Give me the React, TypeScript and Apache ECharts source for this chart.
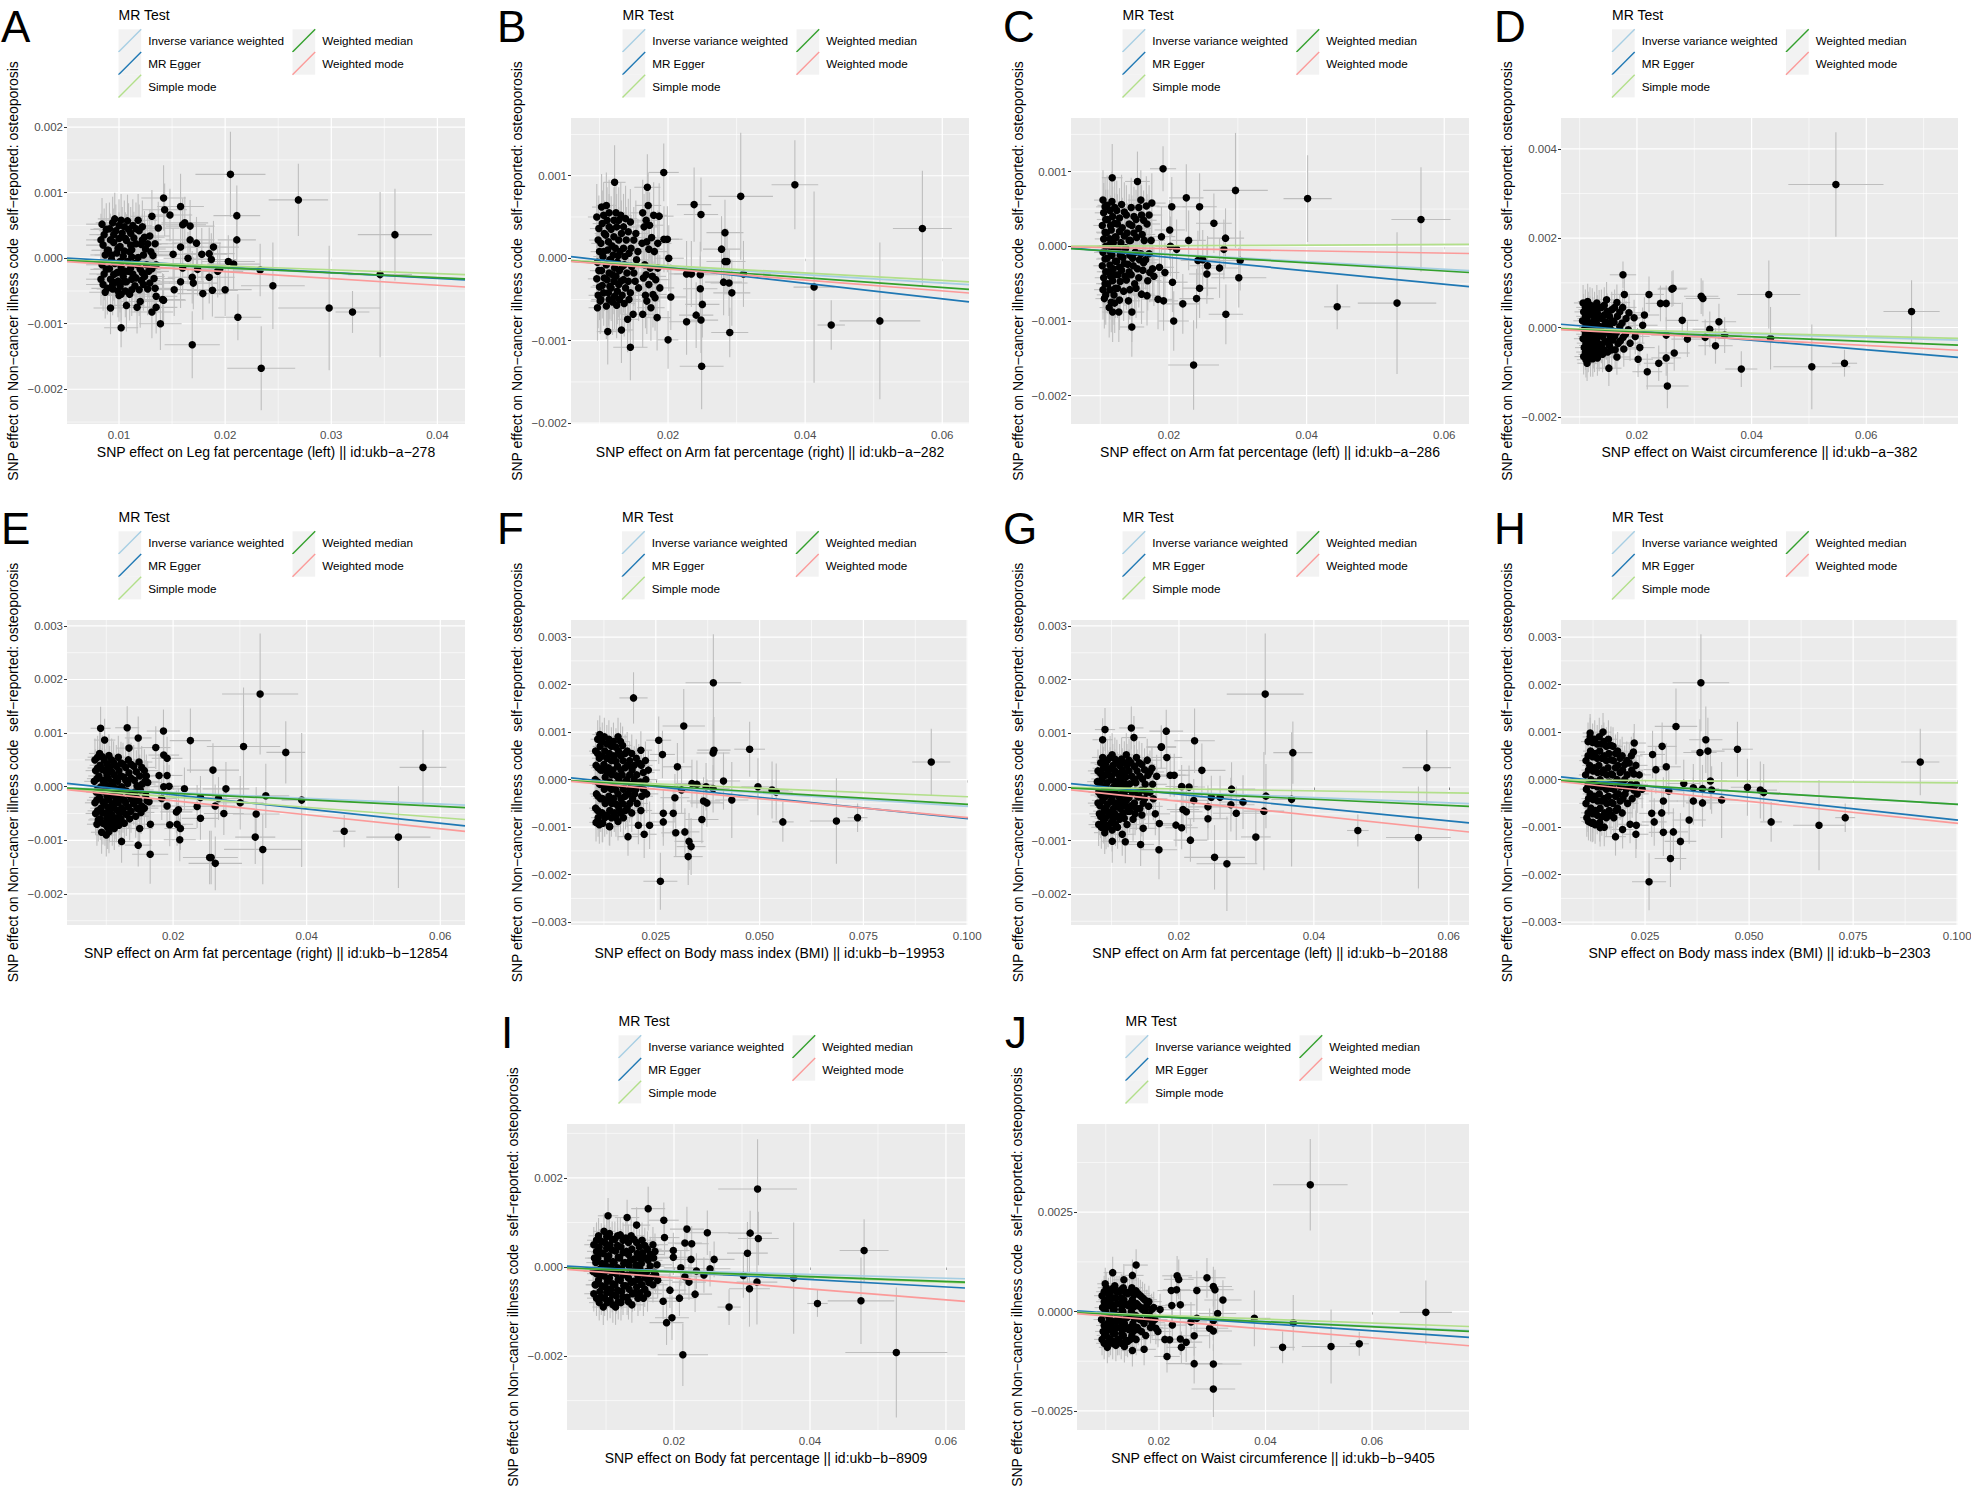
import React, { useEffect, useRef } from "react";
import * as echarts from "echarts";

const FONT = "'Liberation Sans', Arial, Helvetica, sans-serif";
const METHODS = ["Inverse variance weighted", "MR Egger", "Simple mode", "Weighted median", "Weighted mode"];
const METHOD_COLORS = ["#A6CEE3", "#1F78B4", "#B2DF8A", "#33A02C", "#FB9A99"];
const Y_TITLE = "SNP effect on Non\u2212cancer illness code \u00a0self\u2212reported: osteoporosis";

// ---------- SNP data: [beta.exposure, beta.outcome, se.exposure, se.outcome] ----------
const snpA = [
[.0084,.00052,.0015,.0004],[.0086,.00036,.0014,.0004],[.0085,.0002,.0016,.0004],[.0087,.00005,.0014,.0004],[.0084,-.0001,.0015,.0004],[.0086,-.00024,.0014,.0004],[.0085,-.0004,.0016,.0004],[.0087,-.00052,.0015,.0004],
[.0091,.00045,.0015,.0004],[.0092,.00028,.0016,.0004],[.009,.00012,.0015,.0004],[.0093,-.00002,.0016,.0004],[.0091,-.00016,.0015,.0004],[.0092,-.00032,.0016,.0004],[.0094,-.00047,.0015,.0004],
[.0096,.0006,.0016,.0004],[.0097,.00042,.0016,.0004],[.0095,.00024,.0015,.0004],[.0098,.00008,.0016,.0004],[.0096,-.00008,.0016,.0004],[.0098,-.00022,.0015,.0004],[.0096,-.00037,.0016,.0004],[.0099,-.0005,.0016,.0004],
[.0102,.00058,.0017,.0004],[.0103,.00038,.0016,.0004],[.0101,.00018,.0017,.0004],[.0104,.00003,.0016,.0004],[.0102,-.00013,.0017,.0004],[.0104,-.00028,.0016,.0004],[.0101,-.00043,.0017,.0004],
[.0108,.00057,.0017,.0004],[.0109,.00044,.0017,.0004],[.0107,.00027,.0017,.0004],[.011,.0001,.0018,.0004],[.0108,-.00005,.0017,.0004],[.0109,-.0002,.0017,.0004],[.0107,-.00036,.0018,.0004],[.011,-.00055,.0017,.0004],
[.0113,.0005,.0018,.0004],[.0114,.00031,.0018,.0004],[.0112,.00013,.0017,.0004],[.0115,-.00008,.0018,.0004],[.0113,-.00024,.0018,.0004],[.0115,-.00042,.0018,.0004],
[.0118,.00058,.0018,.0004],[.0119,.00042,.0018,.0004],[.0121,.00021,.0019,.0004],[.0118,.00001,.0018,.0004],[.012,-.00017,.0019,.0004],[.0121,-.00034,.0018,.0004],[.0119,-.00048,.0019,.0004],
[.0124,.00032,.0019,.0004],[.0125,.00014,.0019,.0004],[.0126,-.0001,.0019,.0004],[.0124,-.00028,.0019,.0004],[.0127,-.00047,.0019,.0004],
[.0129,.00034,.0019,.0004],[.013,.0001,.002,.0004],[.0131,-.00016,.002,.0004],[.0133,-.00031,.002,.0004],[.0134,.00022,.002,.0004],[.0135,-.0001,.002,.0004],
[.0088,.00044,.0015,.0004],[.0089,.00012,.0015,.0004],[.0088,-.00017,.0015,.0004],[.0089,-.00046,.0015,.0004],[.0083,.00028,.0014,.0004],[.0083,-.00032,.0014,.0004],
[.0094,.00054,.0016,.0004],[.0095,.00036,.0016,.0004],[.0093,.00005,.0016,.0004],[.0095,-.00025,.0016,.0004],[.0094,-.0004,.0016,.0004],
[.01,.0005,.0016,.0004],[.01,.0003,.0016,.0004],[.0099,.00015,.0016,.0004],[.0101,-.00005,.0016,.0004],[.01,-.00021,.0016,.0004],[.0099,-.00035,.0016,.0004],[.0102,-.00055,.0016,.0004],
[.0105,.00048,.0017,.0004],[.0106,.0003,.0017,.0004],[.0105,.00011,.0017,.0004],[.0106,-.0002,.0017,.0004],[.0105,-.00036,.0017,.0004],[.0106,-.0005,.0017,.0004],
[.0111,.00038,.0017,.0004],[.0111,.0002,.0017,.0004],[.0112,.00002,.0017,.0004],[.0111,-.00015,.0017,.0004],[.0112,-.00032,.0017,.0004],[.0112,-.00048,.0017,.0004],
[.0116,.00045,.0018,.0004],[.0116,.00022,.0018,.0004],[.0117,-.0001,.0018,.0004],[.0116,-.0003,.0018,.0004],
[.0122,.00048,.0018,.0004],[.0122,.00028,.0018,.0004],[.0123,.00005,.0018,.0004],[.0122,-.00022,.0018,.0004],[.0123,-.0004,.0018,.0004],
[.0127,.00022,.0019,.0004],[.0128,-.0002,.0019,.0004],[.0132,.00004,.0019,.0004],[.0129,-.00038,.0019,.0004],
[.0131,.00064,.002,.0004],[.0137,.00046,.002,.0004],[.0142,.00092,.0021,.0005],[.0143,.00074,.0021,.0004],[.0148,.00066,.0021,.0004],[.0158,.00079,.0022,.0005],[.016,.00051,.0022,.0004],[.0162,.00054,.0022,.0004],[.0167,.00049,.0023,.0004],[.0167,.00028,.0023,.0004],[.0173,.00023,.0023,.0004],[.0189,.00017,.0024,.0004],[.0178,.00006,.0024,.0004],[.0185,.00007,.0024,.0004],[.0203,-.00005,.0025,.0004],[.0208,-.00009,.0025,.0004],[.0187,-.00002,.0024,.0004],[.0165,0,.0023,.0004],[.0151,.00006,.0022,.0004],[.0158,.00017,.0022,.0004],[.0193,-.0002,.0024,.0004],[.0195,-.00016,.0024,.0004],[.0185,-.00029,.0024,.0004],[.0169,-.00029,.0023,.0004],[.017,-.00038,.0023,.0004],[.0158,-.00036,.0022,.0004],[.0152,-.00048,.0022,.0004],[.0179,-.00054,.0024,.0004],[.0188,-.00049,.0024,.0004],[.02,-.00048,.0025,.0004],[.0174,-.00017,.0023,.0004],[.016,-.00015,.0022,.0004],[.0134,-.00046,.002,.0004],[.0135,-.00058,.002,.0004],[.0142,-.00064,.0021,.0004],[.0131,-.00082,.002,.0004],[.0135,-.00075,.002,.0004],[.0117,-.00075,.0018,.0004],[.0107,-.00072,.0017,.0004],[.01,-.00057,.0017,.0004],[.0092,-.00076,.0016,.0004],[.012,-.00066,.0018,.0004],[.0139,-.001,.002,.0004],[.0141,-.00063,.0021,.0004],
[.0102,-.00106,.0016,.0003],[.0205,.00128,.0033,.00065],[.0269,.00089,.0028,.00055],[.036,.00036,.0035,.0007],[.0346,-.00025,.003,.00126],[.0298,-.00076,.0048,.00095],[.032,-.00082,.0016,.00032],[.0245,-.00042,.003,.00066],[.0234,-.00168,.0032,.00064],[.0169,-.00132,.0026,.00051],[.0212,-.0009,.0022,.00035],[.0211,.00065,.0022,.00046],[.0211,.00028,.0018,.0004],[.0233,-.00018,.0025,.0004]
];
const snpB = [
[.0096,.0005,.0013,.0004],[.0098,.00022,.0013,.0004],[.0097,-.00005,.0013,.0004],[.0096,-.00025,.0013,.0004],[.0098,-.00045,.0014,.0004],[.0097,-.0006,.0013,.0004],
[.0103,.00062,.0014,.0004],[.0104,.00042,.0014,.0004],[.0102,.00018,.0014,.0004],[.0105,.00002,.0014,.0004],[.0103,-.00015,.0014,.0004],[.0104,-.00033,.0014,.0004],[.0102,-.0005,.0014,.0004],
[.011,.00064,.0015,.0004],[.0111,.00046,.0015,.0004],[.0109,.00028,.0015,.0004],[.0112,.0001,.0015,.0004],[.011,-.00008,.0015,.0004],[.0111,-.00026,.0015,.0004],[.0113,-.00042,.0015,.0004],[.011,-.00058,.0015,.0004],
[.0117,.00035,.0015,.0004],[.0118,.00015,.0015,.0004],[.0116,-.00002,.0015,.0004],[.0119,-.0002,.0015,.0004],[.0117,-.00036,.0015,.0004],[.0119,-.00053,.0015,.0004],
[.0124,.00055,.0016,.0004],[.0125,.00038,.0016,.0004],[.0123,.00012,.0016,.0004],[.0126,-.00005,.0016,.0004],[.0124,-.00022,.0016,.0004],[.0126,-.0004,.0016,.0004],[.0125,-.00057,.0016,.0004],
[.0131,.00052,.0016,.0004],[.0132,.0003,.0016,.0004],[.013,.00008,.0016,.0004],[.0133,-.0001,.0017,.0004],[.0131,-.00028,.0016,.0004],[.0133,-.00045,.0017,.0004],
[.0138,.00048,.0017,.0004],[.0139,.00022,.0017,.0004],[.0137,.00002,.0017,.0004],[.014,-.00018,.0017,.0004],[.0138,-.00036,.0017,.0004],[.0141,-.00074,.0017,.0004],
[.0145,.00044,.0017,.0004],[.0146,.00012,.0017,.0004],[.0147,-.0001,.0018,.0004],[.0145,-.00042,.0017,.0004],[.0149,-.00068,.0018,.0004],
[.0153,.0003,.0018,.0004],[.0154,-.00002,.0018,.0004],[.0152,-.00028,.0018,.0004],
[.0163,.00055,.0019,.0004],[.0165,.00038,.0019,.0004],[.0162,.00018,.0019,.0004],[.0166,-.00008,.0019,.0004],[.0164,-.00024,.0019,.0004],[.0167,-.00045,.0019,.0004],[.0163,-.00068,.0019,.0004],
[.0171,.00064,.0019,.0004],[.0173,.0004,.002,.0004],[.0172,.00011,.002,.0004],[.0174,-.00012,.002,.0004],[.0172,-.00032,.002,.0004],[.0175,-.0006,.002,.0004],
[.0179,.00052,.002,.0004],[.018,.00008,.002,.0004],[.0182,-.00026,.002,.0004],[.0181,-.00048,.002,.0004],[.0184,-.00072,.002,.0004],[.0187,.00051,.0021,.0004],[.0188,-.00036,.0021,.0004],
[.0099,.00036,.0013,.0004],[.01,.00008,.0013,.0004],[.0099,-.00015,.0013,.0004],[.01,-.00035,.0013,.0004],[.0101,-.00052,.0014,.0004],
[.0106,.00052,.0014,.0004],[.0107,.0003,.0014,.0004],[.0106,.00008,.0014,.0004],[.0107,-.00024,.0014,.0004],[.0106,-.00042,.0014,.0004],
[.0114,.00055,.0015,.0004],[.0114,.00038,.0015,.0004],[.0113,.0002,.0015,.0004],[.0115,-.00002,.0015,.0004],[.0114,-.00018,.0015,.0004],[.0115,-.00034,.0015,.0004],[.0114,-.0005,.0015,.0004],
[.0121,.00046,.0015,.0004],[.0121,.00026,.0015,.0004],[.012,.00004,.0015,.0004],[.0122,-.00012,.0015,.0004],[.0121,-.00028,.0015,.0004],[.0122,-.00046,.0015,.0004],
[.0128,.00046,.0016,.0004],[.0128,.00022,.0016,.0004],[.0127,.00003,.0016,.0004],[.0129,-.00015,.0016,.0004],[.0128,-.00032,.0016,.0004],[.0129,-.0005,.0016,.0004],
[.0135,.00038,.0016,.0004],[.0135,.00012,.0016,.0004],[.0136,-.00008,.0016,.0004],[.0135,-.00026,.0016,.0004],[.0136,-.00055,.0016,.0004],
[.0142,.00032,.0017,.0004],[.0143,.00006,.0017,.0004],[.0142,-.00028,.0017,.0004],[.0143,-.0005,.0017,.0004],
[.015,.00022,.0018,.0004],[.015,-.00018,.0018,.0004],[.0156,.00008,.0018,.0004],[.0157,-.00036,.0018,.0004],
[.0168,.00046,.0019,.0004],[.0169,.0002,.0019,.0004],[.0168,-.0002,.0019,.0004],[.0169,-.00052,.0019,.0004],[.0176,.00025,.002,.0004],[.0177,-.00022,.002,.0004],[.0178,-.00044,.002,.0004],[.0185,.00018,.002,.0004],[.0185,-.00012,.002,.0004],
[.01937,.00104,.0022,.00035],[.0122,.00092,.0016,.00045],[.01698,.00086,.0019,.0004],[.0306,.00075,.0047,.00077],[.0385,.00089,.0034,.00054],[.0571,.00036,.0043,.0007],[.0238,.00065,.0025,.00045],[.0248,.00053,.0025,.00045],[.0283,.00031,.0027,.0004],[.0278,.00011,.0027,.0004],[.0283,-.00004,.0027,.0004],[.0286,-.00004,.0027,.0004],[.031,-.00019,.004,.0004],[.0281,-.00029,.0027,.0004],[.0289,-.0003,.0027,.0004],[.0293,-.00042,.0027,.0004],[.029,-.0009,.0027,.0003],[.0413,-.00035,.003,.00116],[.0438,-.00081,.002,.0003],[.0509,-.00076,.0059,.00095],[.0249,-.00131,.0032,.00052],[.02,-.00099,.0015,.00035],[.0145,-.00108,.0025,.0004],[.0227,-.00077,.0025,.0004],[.0241,-.00069,.0025,.0004],[.0248,-.00075,.0025,.0004],[.025,-.00056,.0025,.0004],[.0247,-.00037,.0025,.0004],[.0247,-.0002,.0025,.0004],[.0227,-.00019,.0025,.0004],[.0234,-.00019,.0025,.0004],[.0204,-.00047,.0022,.0004],[.0201,0,.0022,.0004],[.0199,.00023,.0022,.0004],[.0194,.00023,.0022,.0004],[.0112,-.00089,.0016,.0004],[.0132,-.00087,.0017,.0004]
];
const snpC = [
[.0104,.00062,.0013,.0004],[.0105,.00045,.0013,.0004],[.0103,.00028,.0013,.0004],[.0105,.0001,.0013,.0004],[.0104,-.00008,.0013,.0004],[.0103,-.00026,.0013,.0004],[.0105,-.00042,.0013,.0004],[.0104,-.00058,.0013,.0004],[.0106,-.0007,.0013,.0004],
[.011,.00055,.0014,.0004],[.0111,.00036,.0014,.0004],[.0109,.00018,.0014,.0004],[.0112,.00001,.0014,.0004],[.011,-.00016,.0014,.0004],[.0112,-.00034,.0014,.0004],[.0111,-.0005,.0014,.0004],[.0113,-.00082,.0014,.0004],
[.0117,.0006,.0015,.0004],[.0118,.0004,.0015,.0004],[.0116,.00022,.0015,.0004],[.0119,.00005,.0015,.0004],[.0117,-.00012,.0015,.0004],[.0119,-.0003,.0015,.0004],[.0118,-.00046,.0015,.0004],[.012,-.00065,.0015,.0004],[.0118,-.00088,.0015,.0004],
[.0124,.00048,.0015,.0004],[.0125,.0003,.0015,.0004],[.0123,.00012,.0015,.0004],[.0126,-.00004,.0016,.0004],[.0124,-.0002,.0015,.0004],[.0126,-.00038,.0016,.0004],[.0125,-.00056,.0016,.0004],[.0127,-.00088,.0016,.0004],
[.0131,.00056,.0016,.0004],[.0132,.00025,.0016,.0004],[.013,.00005,.0016,.0004],[.0133,-.00015,.0016,.0004],[.0131,-.00032,.0016,.0004],[.0134,-.0006,.0016,.0004],
[.0138,.00042,.0017,.0004],[.0139,.00018,.0017,.0004],[.0137,-.00002,.0017,.0004],[.014,-.00024,.0017,.0004],[.0138,-.00045,.0017,.0004],[.0141,-.00073,.0017,.0004],
[.0145,.00052,.0017,.0004],[.0146,.00028,.0017,.0004],[.0144,.00008,.0017,.0004],[.0147,-.00016,.0018,.0004],[.0145,-.00038,.0017,.0004],[.0146,-.00088,.0018,.0004],
[.0152,.00036,.0018,.0004],[.0153,.00012,.0018,.0004],[.0151,-.00008,.0018,.0004],[.0154,-.0003,.0018,.0004],[.0152,-.00056,.0018,.0004],
[.0159,.00062,.0019,.0004],[.016,.00042,.0019,.0004],[.0161,.00016,.0019,.0004],[.0159,-.0001,.0019,.0004],[.0162,-.00032,.0019,.0004],[.016,-.00064,.0019,.0004],
[.0167,.00054,.0019,.0004],[.0168,.0003,.0019,.0004],[.0166,-.00018,.0019,.0004],[.0169,-.00046,.002,.0004],[.0168,-.00066,.002,.0004],
[.0175,.00058,.002,.0004],[.0174,.00008,.002,.0004],[.0176,-.0003,.002,.0004],[.0178,-.0004,.002,.0004],
[.0107,.00053,.0013,.0004],[.0108,.00036,.0013,.0004],[.0107,.00019,.0013,.0004],[.0108,0,.0013,.0004],[.0107,-.00017,.0013,.0004],[.0108,-.00034,.0013,.0004],[.0107,-.0005,.0013,.0004],[.0108,-.00065,.0013,.0004],
[.0114,.00048,.0014,.0004],[.0115,.00028,.0014,.0004],[.0114,.0001,.0014,.0004],[.0115,-.00008,.0014,.0004],[.0114,-.00025,.0014,.0004],[.0115,-.0004,.0014,.0004],[.0114,-.00058,.0014,.0004],[.0116,-.00075,.0014,.0004],
[.0121,.00052,.0015,.0004],[.0121,.00031,.0015,.0004],[.0122,.00013,.0015,.0004],[.0121,-.00004,.0015,.0004],[.0122,-.0002,.0015,.0004],[.0121,-.00038,.0015,.0004],[.0122,-.00056,.0015,.0004],[.0121,-.00076,.0015,.0004],
[.0128,.00038,.0015,.0004],[.0128,.0002,.0015,.0004],[.0129,-.00012,.0016,.0004],[.0128,-.00028,.0015,.0004],[.0129,-.00047,.0016,.0004],[.0128,-.00072,.0016,.0004],
[.0135,.00046,.0016,.0004],[.0135,.00014,.0016,.0004],[.0136,-.00005,.0016,.0004],[.0135,-.00023,.0016,.0004],[.0136,-.0004,.0016,.0004],
[.0142,.0003,.0017,.0004],[.0142,.00008,.0017,.0004],[.0143,-.00012,.0017,.0004],[.0142,-.00034,.0017,.0004],[.0143,-.00058,.0017,.0004],
[.0149,.0004,.0017,.0004],[.0149,.00018,.0017,.0004],[.0148,-.00026,.0017,.0004],[.015,-.0005,.0017,.0004],
[.0156,.00052,.0018,.0004],[.0156,.00024,.0018,.0004],[.0157,-.00018,.0018,.0004],[.0156,-.00042,.0018,.0004],
[.0163,.00035,.0019,.0004],[.0164,.00008,.0019,.0004],[.0163,-.00022,.0019,.0004],[.0171,.00042,.0019,.0004],[.0171,-.0001,.0019,.0004],[.0172,-.00035,.002,.0004],
[.01913,.00104,.0019,.0003],[.01174,.00092,.0015,.00045],[.01541,.00087,.0018,.0004],[.02966,.00075,.0047,.00077],[.02251,.00065,.0025,.00045],[.02444,.00053,.0025,.00045],[.04014,.00064,.0035,.00058],[.05662,.00036,.0043,.0007],[.02652,.00031,.0026,.0004],[.02285,.00008,.0025,.0004],[.02821,.00011,.0027,.0004],[.02797,-.00004,.0027,.0004],[.03034,-.00019,.004,.0004],[.03014,-.00042,.004,.0004],[.02734,-.00029,.0027,.0004],[.0256,-.00026,.0026,.0004],[.0255,-.00037,.0026,.0004],[.0242,-.00019,.0025,.0004],[.0249,-.00018,.0025,.0004],[.02444,-.00056,.0025,.0004],[.024,-.0007,.0025,.0004],[.022,-.00077,.0025,.0004],[.0205,-.00048,.0022,.0004],[.02068,-.001,.0022,.0004],[.02826,-.00091,.0025,.0004],[.02357,-.00159,.0037,.0006],[.04444,-.00081,.0019,.0003],[.05314,-.00076,.0057,.00095],[.01459,-.00108,.0018,.0004],[.0202,0,.0022,.0004],[.0211,-.00004,.0022,.0004],[.0201,.00022,.0022,.0004],[.0204,.00053,.0022,.0004],[.0189,.00013,.002,.0004],[.0194,-.00035,.0021,.0004],[.0186,-.00028,.0021,.0004],[.0184,-.00071,.0021,.0004],[.0192,-.00073,.0021,.0004]
];
const snpD = [
[.0106,.00055,.0016,.0004],[.0107,.00035,.0016,.0004],[.0105,.00015,.0016,.0004],[.0108,-.00005,.0016,.0004],[.0106,-.00025,.0016,.0004],[.0108,-.00045,.0016,.0004],[.0107,-.00065,.0016,.0004],
[.0114,.00058,.0017,.0004],[.0115,.0004,.0017,.0004],[.0113,.0002,.0017,.0004],[.0116,0,.0017,.0004],[.0114,-.0002,.0017,.0004],[.0116,-.0004,.0017,.0004],[.0115,-.0006,.0017,.0004],[.0113,-.0008,.0017,.0004],
[.0122,.00048,.0018,.0004],[.0123,.00028,.0018,.0004],[.0121,.00008,.0018,.0004],[.0124,-.00012,.0018,.0004],[.0122,-.00032,.0018,.0004],[.0124,-.00052,.0018,.0004],[.0123,-.0007,.0018,.0004],
[.013,.00055,.0019,.0004],[.0131,.00032,.0019,.0004],[.0129,.00012,.0019,.0004],[.0132,-.00008,.0019,.0004],[.013,-.00028,.0019,.0004],[.0132,-.00048,.0019,.0004],[.0131,-.00068,.0019,.0004],
[.0138,.00045,.002,.0004],[.0139,.0002,.002,.0004],[.0137,0,.002,.0004],[.014,-.0002,.002,.0004],[.0138,-.0004,.002,.0004],[.014,-.0006,.002,.0004],
[.0147,.00062,.0021,.0004],[.0148,.00036,.0021,.0004],[.0146,.00012,.0021,.0004],[.0149,-.0001,.0021,.0004],[.0147,-.00032,.0021,.0004],[.0149,-.00055,.0021,.0004],
[.0156,.0004,.0022,.0004],[.0157,.00015,.0022,.0004],[.0155,-.00006,.0022,.0004],[.0158,-.00028,.0022,.0004],[.0156,-.0005,.0022,.0004],
[.0165,.00056,.0023,.0004],[.0166,.00025,.0023,.0004],[.0164,-.00012,.0023,.0004],[.0167,-.00036,.0023,.0004],[.0165,-.00066,.0023,.0004],
[.0175,.00045,.0024,.0004],[.0174,.0001,.0024,.0004],[.0176,-.00022,.0024,.0004],[.0177,-.00048,.0024,.0004],
[.0186,.00033,.0025,.0004],[.0185,-.00005,.0025,.0004],[.0188,-.00035,.0025,.0004],[.0195,.00022,.0025,.0004],[.0197,-.0002,.0025,.0004],[.0205,-.00045,.0026,.0004],[.021,.00005,.0026,.0004],[.0213,.00028,.0026,.0004],
[.011,.00045,.0016,.0004],[.011,.00025,.0016,.0004],[.0111,.00005,.0016,.0004],[.011,-.00015,.0016,.0004],[.0111,-.00035,.0016,.0004],[.011,-.00055,.0016,.0004],[.0111,-.00072,.0016,.0004],
[.0118,.0005,.0017,.0004],[.0118,.0003,.0017,.0004],[.0119,.0001,.0017,.0004],[.0118,-.0001,.0017,.0004],[.0119,-.0003,.0017,.0004],[.0118,-.0005,.0017,.0004],[.0119,-.0007,.0017,.0004],
[.0126,.0004,.0018,.0004],[.0126,.00018,.0018,.0004],[.0127,-.00002,.0018,.0004],[.0126,-.00022,.0018,.0004],[.0127,-.00042,.0018,.0004],[.0126,-.0006,.0018,.0004],
[.0134,.00044,.0019,.0004],[.0134,.00022,.0019,.0004],[.0135,.00002,.0019,.0004],[.0134,-.00018,.0019,.0004],[.0135,-.00038,.0019,.0004],[.0134,-.00058,.0019,.0004],
[.0143,.0005,.002,.0004],[.0143,.00028,.002,.0004],[.0144,.00006,.002,.0004],[.0143,-.00012,.002,.0004],[.0144,-.00032,.002,.0004],[.0143,-.0005,.002,.0004],
[.0152,.00025,.0021,.0004],[.0152,.00002,.0021,.0004],[.0153,-.0002,.0021,.0004],[.0152,-.0004,.0021,.0004],
[.0161,.00045,.0022,.0004],[.016,.00012,.0022,.0004],[.0161,-.0002,.0022,.0004],[.0162,-.0005,.0022,.0004],
[.017,.00035,.0023,.0004],[.017,.00002,.0023,.0004],[.0171,-.0003,.0023,.0004],[.0181,.0002,.0024,.0004],[.018,-.00015,.0024,.0004],
[.0547,.0032,.0083,.00117],[.0679,.00036,.0049,.0007],[.043,.00074,.0055,.00076],[.01756,.00118,.0023,.0003],[.0261,.00086,.0025,.0004],[.0263,.00088,.0025,.0004],[.0312,.0007,.003,.0004],[.0315,.00065,.003,.0004],[.0178,.00074,.0024,.0004],[.0221,.00074,.0026,.0004],[.0241,.00054,.0026,.0004],[.0251,.00054,.0026,.0004],[.0279,.00016,.0028,.0004],[.0343,.00013,.003,.0004],[.0327,-.00004,.003,.0004],[.0319,-.00022,.003,.0004],[.0353,-.00017,.003,.0004],[.0288,-.00026,.0028,.0004],[.0337,-.00041,.003,.0004],[.0433,-.00024,.003,.0007],[.0382,-.00093,.0028,.0004],[.0505,-.00088,.0067,.00095],[.0562,-.0008,.0022,.0003],[.0253,-.00131,.0037,.0005],[.0218,-.00099,.0026,.0004],[.0238,-.0008,.0026,.0004],[.0251,-.00068,.0026,.0004],[.0265,-.00057,.0027,.0004],[.0202,-.00071,.0026,.0004],[.0151,-.00091,.0022,.0004],[.0251,-.00017,.0026,.0004]
];
const snpE = [
[.0083,.0005,.0015,.0004],[.0084,.0003,.0015,.0004],[.0082,.0001,.0015,.0004],[.0085,-.0001,.0015,.0004],[.0083,-.0003,.0015,.0004],[.0084,-.0005,.0015,.0004],[.0086,-.0007,.0015,.0004],
[.009,.00062,.0016,.0004],[.0091,.0004,.0016,.0004],[.0089,.0002,.0016,.0004],[.0092,0,.0016,.0004],[.009,-.0002,.0016,.0004],[.0092,-.0004,.0016,.0004],[.0091,-.0006,.0016,.0004],[.0093,-.00085,.0016,.0004],
[.0097,.0005,.0016,.0004],[.0098,.0003,.0016,.0004],[.0096,.0001,.0016,.0004],[.0099,-.0001,.0016,.0004],[.0097,-.0003,.0016,.0004],[.0099,-.0005,.0016,.0004],[.0098,-.0007,.0016,.0004],[.01,-.0009,.0016,.0004],
[.0104,.00058,.0017,.0004],[.0105,.00036,.0017,.0004],[.0103,.00016,.0017,.0004],[.0106,-.00004,.0017,.0004],[.0104,-.00024,.0017,.0004],[.0106,-.00044,.0017,.0004],[.0105,-.00064,.0017,.0004],[.0104,-.00084,.0017,.0004],
[.0111,.00045,.0017,.0004],[.0112,.00022,.0017,.0004],[.011,.00002,.0017,.0004],[.0113,-.00018,.0017,.0004],[.0111,-.00038,.0017,.0004],[.0113,-.00058,.0017,.0004],[.0112,-.00078,.0017,.0004],
[.0118,.00055,.0018,.0004],[.0119,.0003,.0018,.0004],[.0117,.0001,.0018,.0004],[.012,-.0001,.0018,.0004],[.0118,-.0003,.0018,.0004],[.012,-.0005,.0018,.0004],[.0119,-.00072,.0018,.0004],
[.0125,.00042,.0018,.0004],[.0126,.00018,.0018,.0004],[.0124,-.00004,.0018,.0004],[.0127,-.00025,.0018,.0004],[.0125,-.00046,.0018,.0004],[.0127,-.00068,.0018,.0004],
[.0133,.0005,.0019,.0004],[.0134,.00026,.0019,.0004],[.0132,.00006,.0019,.0004],[.0135,-.00016,.0019,.0004],[.0133,-.00038,.0019,.0004],[.0135,-.0006,.0019,.0004],
[.0141,.00038,.002,.0004],[.0142,.00012,.002,.0004],[.0143,-.0001,.002,.0004],[.0141,-.00032,.002,.0004],[.0144,-.00055,.002,.0004],
[.0149,.00046,.002,.0004],[.015,.0002,.002,.0004],[.0151,-.00006,.002,.0004],[.0149,-.00026,.002,.0004],[.0152,-.00048,.002,.0004],
[.0157,.0003,.0021,.0004],[.0158,.0001,.0021,.0004],[.0159,-.00016,.0021,.0004],[.0157,-.0004,.0021,.0004],[.0162,.00008,.0021,.0004],[.0164,-.00028,.0021,.0004],[.0166,-.0007,.0022,.0004],
[.0087,.00055,.0015,.0004],[.0087,.00035,.0015,.0004],[.0086,.00015,.0015,.0004],[.0087,-.00005,.0015,.0004],[.0086,-.00025,.0015,.0004],[.0087,-.00045,.0015,.0004],[.0088,-.00062,.0015,.0004],
[.0094,.00056,.0016,.0004],[.0094,.00032,.0016,.0004],[.0095,.00012,.0016,.0004],[.0094,-.00008,.0016,.0004],[.0095,-.00028,.0016,.0004],[.0094,-.00048,.0016,.0004],[.0095,-.00068,.0016,.0004],
[.0101,.00042,.0016,.0004],[.0101,.00022,.0016,.0004],[.0102,.00002,.0016,.0004],[.0101,-.00018,.0016,.0004],[.0102,-.00038,.0016,.0004],[.0101,-.00058,.0016,.0004],[.0102,-.00076,.0016,.0004],
[.0108,.0005,.0017,.0004],[.0108,.00028,.0017,.0004],[.0109,.00008,.0017,.0004],[.0108,-.00012,.0017,.0004],[.0109,-.00032,.0017,.0004],[.0108,-.00052,.0017,.0004],[.0109,-.0007,.0017,.0004],
[.0115,.00038,.0017,.0004],[.0115,.00016,.0017,.0004],[.0116,-.00004,.0017,.0004],[.0115,-.00024,.0017,.0004],[.0116,-.00044,.0017,.0004],[.0115,-.00064,.0017,.0004],
[.0122,.00044,.0018,.0004],[.0122,.0002,.0018,.0004],[.0123,0,.0018,.0004],[.0122,-.0002,.0018,.0004],[.0123,-.0004,.0018,.0004],[.0122,-.0006,.0018,.0004],
[.0129,.00036,.0019,.0004],[.0129,.00012,.0019,.0004],[.013,-.00008,.0019,.0004],[.0129,-.0003,.0019,.0004],[.013,-.00052,.0019,.0004],
[.0137,.00042,.0019,.0004],[.0137,.00016,.0019,.0004],[.0138,-.00024,.0019,.0004],[.0137,-.00046,.0019,.0004],
[.0145,.00028,.002,.0004],[.0146,.00002,.002,.0004],[.0145,-.0002,.002,.0004],[.0146,-.0004,.002,.0004],
[.0153,.00036,.002,.0004],[.0154,.00005,.002,.0004],[.0153,-.00036,.002,.0004],[.016,.0002,.0021,.0004],[.0161,-.00026,.0021,.0004],
[.03303,.00173,.0057,.00113],[.05741,.00036,.0035,.0007],[.03687,.00064,.0029,.00058],[.03055,.00075,.0055,.0011],[.02259,.00086,.0031,.0006],[.02597,.00031,.0039,.0005],[.01856,.00104,.0025,.0004],[.00915,.00109,.0015,.0004],[.01313,.0011,.0018,.0004],[.00975,.00087,.0016,.0004],[.01478,.00091,.002,.0004],[.01741,.00073,.0022,.0004],[.0134,.00072,.0019,.0004],[.02791,-.00004,.0035,.0005],[.0217,-.00004,.0025,.0004],[.03388,-.00017,.0035,.0006],[.03925,-.00025,.003,.00125],[.03005,-.0003,.0035,.0005],[.0268,-.00022,.003,.0004],[.0241,-.0002,.0028,.0004],[.0263,-.00036,.003,.0004],[.0276,-.0005,.003,.0004],[.0241,-.00059,.0028,.0004],[.0236,-.00037,.0028,.0004],[.03244,-.00051,.0035,.0005],[.0323,-.00094,.003,.0005],[.03343,-.00117,.0058,.00065],[.04562,-.00083,.0017,.0003],[.05373,-.00094,.0048,.00095],[.02547,-.00132,.004,.0005],[.0257,-.00132,.004,.0005],[.02632,-.00143,.004,.0005],[.01657,-.00126,.0027,.00055],[.01478,-.00109,.002,.0004],[.01229,-.00102,.0018,.0004],[.015,-.00078,.002,.0004],[.0195,-.00071,.0024,.0004],[.0206,-.0007,.0024,.0004],[.0211,-.00078,.0024,.0004],[.021,-.00099,.0024,.0004],[.0205,-.00047,.0024,.0004],[.0208,-.00043,.0024,.0004],[.0191,-.00036,.0023,.0004],[.0183,-.00022,.0023,.0004],[.0186,0,.0023,.0004],[.0194,.00001,.0023,.0004],[.0191,.00021,.0023,.0004],[.0179,.00021,.0022,.0004],[.0191,.00053,.0023,.0004],[.0186,.00059,.0023,.0004]
];
const snpF = [
[.0105,.0006,.0016,.0004],[.0106,.0003,.0016,.0004],[.0104,0,.0016,.0004],[.0107,-.0003,.0016,.0004],[.0105,-.0006,.0016,.0004],[.0106,-.0009,.0016,.0004],
[.0115,.00095,.0018,.0004],[.0116,.0007,.0018,.0004],[.0114,.00045,.0018,.0004],[.0117,.0002,.0018,.0004],[.0115,-.0001,.0018,.0004],[.0117,-.0004,.0018,.0004],[.0116,-.0007,.0018,.0004],[.0114,-.00095,.0018,.0004],
[.0126,.0009,.0019,.0004],[.0127,.0006,.0019,.0004],[.0125,.00032,.0019,.0004],[.0128,.00005,.0019,.0004],[.0126,-.0002,.0019,.0004],[.0128,-.0005,.0019,.0004],[.0127,-.0008,.0019,.0004],
[.0137,.00085,.002,.0004],[.0138,.00055,.002,.0004],[.0136,.00025,.002,.0004],[.0139,-.00005,.002,.0004],[.0137,-.00035,.002,.0004],[.0139,-.00065,.002,.0004],[.0138,-.00098,.002,.0004],
[.0148,.0008,.0021,.0004],[.0149,.0005,.0021,.0004],[.0147,.0002,.0021,.0004],[.015,-.0001,.0021,.0004],[.0148,-.0004,.0021,.0004],[.015,-.0007,.0021,.0004],
[.0159,.0009,.0022,.0004],[.016,.0006,.0022,.0004],[.0158,.00028,.0022,.0004],[.0161,0,.0022,.0004],[.0159,-.0003,.0022,.0004],[.0161,-.0006,.0022,.0004],[.0159,-.00088,.0022,.0004],
[.017,.00072,.0023,.0004],[.0171,.0004,.0023,.0004],[.0169,.0001,.0023,.0004],[.0172,-.0002,.0023,.0004],[.017,-.0005,.0023,.0004],[.0172,-.0008,.0023,.0004],
[.0181,.0006,.0024,.0004],[.0182,.0003,.0024,.0004],[.018,0,.0024,.0004],[.0183,-.0003,.0024,.0004],[.0181,-.0006,.0024,.0004],
[.0192,.00055,.0025,.0004],[.0193,.0002,.0025,.0004],[.0191,-.0001,.0025,.0004],[.0194,-.0004,.0025,.0004],[.0192,-.0007,.0025,.0004],
[.0203,.00045,.0026,.0004],[.0204,.0001,.0026,.0004],[.0202,-.0002,.0026,.0004],[.0205,-.0005,.0026,.0004],
[.0214,.00062,.0027,.0004],[.0215,.0003,.0027,.0004],[.0213,-.00005,.0027,.0004],[.0216,-.00035,.0027,.0004],[.0214,-.00065,.0027,.0004],
[.0225,.0004,.0028,.0004],[.0226,0,.0028,.0004],[.0228,-.0003,.0028,.0004],[.0232,.0002,.0028,.0004],
[.011,.00085,.0017,.0004],[.011,.00055,.0017,.0004],[.0111,.00025,.0017,.0004],[.011,-.00005,.0017,.0004],[.0111,-.00035,.0017,.0004],[.011,-.00065,.0017,.0004],[.0111,-.0008,.0017,.0004],
[.0121,.0008,.0018,.0004],[.0121,.0005,.0018,.0004],[.0122,.0002,.0018,.0004],[.0121,-.0001,.0018,.0004],[.0122,-.0004,.0018,.0004],[.0121,-.0007,.0018,.0004],[.0122,-.00092,.0018,.0004],
[.0132,.00075,.0019,.0004],[.0132,.00045,.0019,.0004],[.0133,.00015,.0019,.0004],[.0132,-.00015,.0019,.0004],[.0133,-.00045,.0019,.0004],[.0132,-.00075,.0019,.0004],
[.0143,.0007,.002,.0004],[.0143,.0004,.002,.0004],[.0144,.0001,.002,.0004],[.0143,-.0002,.002,.0004],[.0144,-.0005,.002,.0004],[.0143,-.0008,.002,.0004],
[.0154,.00068,.0021,.0004],[.0154,.00038,.0021,.0004],[.0155,.00008,.0021,.0004],[.0154,-.00022,.0021,.0004],[.0155,-.00052,.0021,.0004],[.0154,-.0008,.0021,.0004],
[.0165,.0008,.0022,.0004],[.0165,.0005,.0022,.0004],[.0166,.0002,.0022,.0004],[.0165,-.0001,.0022,.0004],[.0166,-.0004,.0022,.0004],[.0165,-.0007,.0022,.0004],
[.0176,.00055,.0023,.0004],[.0176,.00025,.0023,.0004],[.0177,-.00005,.0023,.0004],[.0176,-.00035,.0023,.0004],[.0177,-.00065,.0023,.0004],
[.0187,.0004,.0024,.0004],[.0187,.0001,.0024,.0004],[.0188,-.0002,.0024,.0004],[.0187,-.0005,.0024,.0004],
[.0198,.0003,.0025,.0004],[.0198,0,.0025,.0004],[.0199,-.0003,.0025,.0004],[.0209,.00035,.0026,.0004],[.0209,-.0001,.0026,.0004],[.022,.00015,.0027,.0004],[.022,-.0002,.0027,.0004],
[.03886,.00204,.0067,.00102],[.01963,.00172,.0034,.00054],[.03173,.00113,.0051,.00078],[.0476,.00064,.0037,.00058],[.09135,.00037,.0046,.0007],[.0388,.00056,.004,.0007],[.039,.00062,.004,.0007],[.0257,.00083,.003,.0005],[.0302,.00027,.0035,.0005],[.0266,.00053,.003,.0005],[.0413,-.00003,.004,.0006],[.0349,-.0001,.004,.0005],[.0337,-.00008,.004,.0005],[.0371,-.00015,.004,.0005],[.0388,-.00019,.004,.0005],[.0496,-.00015,.004,.0006],[.053,-.00022,.004,.0006],[.054,-.00026,.004,.0006],[.0433,-.00043,.004,.0008],[.0365,-.00045,.004,.0005],[.0373,-.00049,.004,.0005],[.0296,-.00038,.0035,.0005],[.0312,-.00022,.0035,.0005],[.0361,-.00084,.004,.0005],[.0556,-.00089,.0026,.00042],[.0685,-.00087,.0064,.0009],[.0736,-.0008,.0024,.0003],[.0298,-.00112,.0035,.0005],[.032,-.0011,.0035,.0005],[.033,-.0013,.0035,.0006],[.0335,-.00141,.0035,.0006],[.0328,-.00162,.0035,.0006],[.0261,-.00214,.0041,.0006],[.0268,-.00089,.003,.0005],[.0268,-.00071,.003,.0005],[.0292,-.00071,.003,.0005],[.0222,-.00115,.003,.0005],[.0183,-.0012,.0025,.0004],[.0235,-.00096,.003,.0005],[.0208,-.00096,.0028,.0004],[.0139,-.00099,.002,.0004],[.0121,-.00092,.0018,.0004]
];
const snpG = [
[.008,.0003,.0015,.0004],[.0079,.0001,.0015,.0004],[.0081,-.0001,.0015,.0004],[.008,-.0003,.0015,.0004],[.0082,-.0005,.0015,.0004],[.0081,-.0007,.0015,.0004],
[.0087,.00055,.0016,.0004],[.0088,.00035,.0016,.0004],[.0086,.00015,.0016,.0004],[.0089,-.00005,.0016,.0004],[.0087,-.00025,.0016,.0004],[.0089,-.00045,.0016,.0004],[.0088,-.00065,.0016,.0004],[.009,-.00085,.0016,.0004],
[.0094,.0005,.0016,.0004],[.0095,.00028,.0016,.0004],[.0093,.00008,.0016,.0004],[.0096,-.00012,.0016,.0004],[.0094,-.00032,.0016,.0004],[.0096,-.00052,.0016,.0004],[.0095,-.00072,.0016,.0004],
[.0101,.0006,.0017,.0004],[.0102,.0004,.0017,.0004],[.01,.0002,.0017,.0004],[.0103,0,.0017,.0004],[.0101,-.0002,.0017,.0004],[.0103,-.0004,.0017,.0004],[.0102,-.0006,.0017,.0004],[.0101,-.0008,.0017,.0004],
[.0108,.00048,.0017,.0004],[.0109,.00025,.0017,.0004],[.0107,.00005,.0017,.0004],[.011,-.00015,.0017,.0004],[.0108,-.00035,.0017,.0004],[.011,-.00055,.0017,.0004],[.0109,-.00075,.0017,.0004],
[.0115,.00052,.0018,.0004],[.0116,.00032,.0018,.0004],[.0114,.00012,.0018,.0004],[.0117,-.00008,.0018,.0004],[.0115,-.00028,.0018,.0004],[.0117,-.00048,.0018,.0004],[.0116,-.00088,.0018,.0004],
[.0122,.0006,.0018,.0004],[.0123,.0004,.0018,.0004],[.0121,.00018,.0018,.0004],[.0124,-.00004,.0018,.0004],[.0122,-.00025,.0018,.0004],[.0124,-.00045,.0018,.0004],[.0123,-.0007,.0018,.0004],
[.0129,.00045,.0019,.0004],[.013,.0002,.0019,.0004],[.0131,-.0001,.0019,.0004],[.0129,-.00035,.0019,.0004],[.0132,-.0006,.0019,.0004],
[.0137,.00055,.0019,.0004],[.0138,.0003,.0019,.0004],[.0136,.00008,.0019,.0004],[.0139,-.00018,.0019,.0004],[.0137,-.0004,.0019,.0004],
[.0145,.00042,.002,.0004],[.0146,.00015,.002,.0004],[.0144,-.00006,.002,.0004],[.0147,-.0003,.002,.0004],[.0145,-.00052,.002,.0004],
[.0153,.0005,.0021,.0004],[.0154,.00022,.0021,.0004],[.0152,-.0001,.0021,.0004],[.0155,-.00036,.0021,.0004],
[.016,.00035,.0021,.0004],[.0161,.00005,.0021,.0004],[.0162,-.00022,.0021,.0004],[.0165,-.0005,.0022,.0004],[.0167,.0002,.0022,.0004],
[.0084,.00045,.0015,.0004],[.0084,.00025,.0015,.0004],[.0083,.00005,.0015,.0004],[.0084,-.00015,.0015,.0004],[.0083,-.00035,.0015,.0004],[.0084,-.00055,.0015,.0004],[.0085,-.00075,.0015,.0004],
[.0091,.00042,.0016,.0004],[.0091,.00022,.0016,.0004],[.0092,.00002,.0016,.0004],[.0091,-.00018,.0016,.0004],[.0092,-.00038,.0016,.0004],[.0091,-.00058,.0016,.0004],[.0092,-.00076,.0016,.0004],
[.0098,.00055,.0016,.0004],[.0098,.00034,.0016,.0004],[.0099,.00013,.0016,.0004],[.0098,-.00007,.0016,.0004],[.0099,-.00027,.0016,.0004],[.0098,-.00047,.0016,.0004],[.0099,-.00067,.0016,.0004],
[.0105,.00052,.0017,.0004],[.0105,.0003,.0017,.0004],[.0106,.0001,.0017,.0004],[.0105,-.0001,.0017,.0004],[.0106,-.0003,.0017,.0004],[.0105,-.0005,.0017,.0004],[.0106,-.0007,.0017,.0004],
[.0112,.0004,.0017,.0004],[.0112,.0002,.0017,.0004],[.0113,0,.0017,.0004],[.0112,-.0002,.0017,.0004],[.0113,-.0004,.0017,.0004],[.0112,-.0006,.0017,.0004],
[.0119,.00045,.0018,.0004],[.0119,.00025,.0018,.0004],[.012,.00005,.0018,.0004],[.0119,-.00015,.0018,.0004],[.012,-.00035,.0018,.0004],[.0119,-.00058,.0018,.0004],
[.0126,.0005,.0019,.0004],[.0126,.0003,.0019,.0004],[.0127,.00006,.0019,.0004],[.0126,-.0002,.0019,.0004],[.0127,-.00045,.0019,.0004],
[.0134,.00038,.0019,.0004],[.0134,.00015,.0019,.0004],[.0135,-.00008,.0019,.0004],[.0134,-.0003,.0019,.0004],[.0135,-.0005,.0019,.0004],
[.0141,.00045,.002,.0004],[.0142,.0002,.002,.0004],[.0141,-.00018,.002,.0004],[.0142,-.0004,.002,.0004],
[.0149,.00032,.002,.0004],[.015,.00005,.002,.0004],[.0149,-.00022,.002,.0004],[.0157,.00028,.0021,.0004],[.0157,-.0001,.0021,.0004],
[.03279,.00173,.0057,.00113],[.05674,.00036,.0036,.0007],[.03689,.00064,.0029,.00058],[.02232,.00086,.003,.0006],[.0234,.00031,.0035,.0005],[.01812,.00104,.0025,.0004],[.00904,.00107,.0015,.0004],[.01294,.0011,.0018,.0004],[.01333,.00092,.0018,.0004],[.00869,.00088,.0015,.0004],[.01738,.00074,.0022,.0004],[.0278,-.00004,.0035,.0005],[.0329,-.00017,.0035,.0006],[.0367,-.00023,.003,.00125],[.0295,-.00028,.0035,.0005],[.0277,-.00033,.0035,.0005],[.0285,-.00049,.0035,.0005],[.0326,-.00045,.003,.0011],[.0248,-.00019,.003,.0004],[.0261,-.00019,.003,.0004],[.0222,-.00025,.003,.0004],[.0243,-.00037,.003,.0004],[.0243,-.00059,.003,.0004],[.0314,-.00093,.0022,.0005],[.04652,-.00081,.0016,.0003],[.0555,-.00094,.0048,.00095],[.02528,-.00131,.0045,.0006],[.02711,-.00143,.0045,.00088],[.01704,-.00117,.0027,.00055],[.01432,-.00107,.002,.0004],[.01205,-.00102,.0018,.0004],[.01012,-.00101,.0017,.0004],[.0217,-.00099,.0025,.0004],[.01956,-.00071,.0024,.0004],[.0204,-.00076,.0024,.0004],[.0206,-.00042,.0024,.0004],[.0211,-.00046,.0024,.0004],[.0171,-.00068,.0022,.0004],[.0147,-.00077,.002,.0004],[.0204,.00001,.0024,.0004],[.0215,0,.0024,.0004],[.0193,.00022,.0023,.0004],[.0187,.00022,.0023,.0004],[.0182,.00055,.0023,.0004],[.0174,.00075,.0022,.0004]
];
const snpH = [
[.0108,.0004,.0016,.0004],[.0107,.0001,.0016,.0004],[.0109,-.0002,.0016,.0004],[.0108,-.0005,.0016,.0004],[.011,-.0008,.0016,.0004],
[.0118,.0009,.0018,.0004],[.0119,.0006,.0018,.0004],[.0117,.0003,.0018,.0004],[.012,0,.0018,.0004],[.0118,-.0003,.0018,.0004],[.012,-.0006,.0018,.0004],[.0119,-.0009,.0018,.0004],
[.0129,.00085,.0019,.0004],[.013,.00055,.0019,.0004],[.0128,.00025,.0019,.0004],[.0131,-.00005,.0019,.0004],[.0129,-.00035,.0019,.0004],[.0131,-.00065,.0019,.0004],[.013,-.00095,.0019,.0004],
[.014,.0009,.002,.0004],[.0141,.0006,.002,.0004],[.0139,.0003,.002,.0004],[.0142,0,.002,.0004],[.014,-.0003,.002,.0004],[.0142,-.0006,.002,.0004],[.0141,-.0009,.002,.0004],
[.0151,.0008,.0021,.0004],[.0152,.0005,.0021,.0004],[.015,.0002,.0021,.0004],[.0153,-.0001,.0021,.0004],[.0151,-.0004,.0021,.0004],[.0153,-.0007,.0021,.0004],[.0152,-.001,.0021,.0004],
[.0162,.00085,.0022,.0004],[.0163,.00055,.0022,.0004],[.0161,.00025,.0022,.0004],[.0164,-.00005,.0022,.0004],[.0162,-.00035,.0022,.0004],[.0164,-.00065,.0022,.0004],
[.0173,.0007,.0023,.0004],[.0174,.0004,.0023,.0004],[.0172,.0001,.0023,.0004],[.0175,-.0002,.0023,.0004],[.0173,-.0005,.0023,.0004],[.0175,-.0008,.0023,.0004],
[.0184,.0006,.0024,.0004],[.0185,.0003,.0024,.0004],[.0183,0,.0024,.0004],[.0186,-.0003,.0024,.0004],[.0184,-.0006,.0024,.0004],
[.0195,.0005,.0025,.0004],[.0196,.0002,.0025,.0004],[.0194,-.0001,.0025,.0004],[.0197,-.0004,.0025,.0004],[.0195,-.0007,.0025,.0004],
[.0206,.0004,.0026,.0004],[.0207,.0001,.0026,.0004],[.0205,-.0002,.0026,.0004],[.0208,-.0005,.0026,.0004],
[.0217,.0005,.0027,.0004],[.0218,.0002,.0027,.0004],[.0216,-.0001,.0027,.0004],[.0219,-.0004,.0027,.0004],
[.0228,.0003,.0028,.0004],[.0229,-.0001,.0028,.0004],[.0231,-.0003,.0028,.0004],[.0236,.0001,.0028,.0004],[.0243,-.0002,.0029,.0004],
[.0113,.0008,.0017,.0004],[.0113,.0005,.0017,.0004],[.0114,.0002,.0017,.0004],[.0113,-.0001,.0017,.0004],[.0114,-.0004,.0017,.0004],[.0113,-.0007,.0017,.0004],[.0114,-.00088,.0017,.0004],
[.0124,.00078,.0018,.0004],[.0124,.00048,.0018,.0004],[.0125,.00018,.0018,.0004],[.0124,-.00012,.0018,.0004],[.0125,-.00042,.0018,.0004],[.0124,-.00072,.0018,.0004],[.0125,-.0009,.0018,.0004],
[.0135,.00075,.0019,.0004],[.0135,.00045,.0019,.0004],[.0136,.00015,.0019,.0004],[.0135,-.00015,.0019,.0004],[.0136,-.00045,.0019,.0004],[.0135,-.00075,.0019,.0004],
[.0146,.00075,.002,.0004],[.0146,.00045,.002,.0004],[.0147,.00015,.002,.0004],[.0146,-.00015,.002,.0004],[.0147,-.00045,.002,.0004],[.0146,-.00078,.002,.0004],
[.0157,.0007,.0021,.0004],[.0157,.0004,.0021,.0004],[.0158,.0001,.0021,.0004],[.0157,-.0002,.0021,.0004],[.0158,-.0005,.0021,.0004],[.0157,-.0008,.0021,.0004],
[.0168,.00072,.0022,.0004],[.0168,.00042,.0022,.0004],[.0169,.00012,.0022,.0004],[.0168,-.00018,.0022,.0004],[.0169,-.00048,.0022,.0004],[.0168,-.00075,.0022,.0004],
[.0179,.00055,.0023,.0004],[.0179,.00025,.0023,.0004],[.018,-.00005,.0023,.0004],[.0179,-.00035,.0023,.0004],[.018,-.00065,.0023,.0004],
[.019,.00045,.0024,.0004],[.019,.00015,.0024,.0004],[.0191,-.00015,.0024,.0004],[.019,-.00045,.0024,.0004],
[.0201,.00032,.0025,.0004],[.0201,0,.0025,.0004],[.0202,-.0003,.0025,.0004],[.0212,.00035,.0026,.0004],[.0212,-.00015,.0026,.0004],[.0223,.00012,.0027,.0004],[.0223,-.00022,.0027,.0004],
[.03842,.00204,.0068,.00102],[.03243,.00112,.0051,.0008],[.0472,.00064,.0037,.00058],[.09113,.00037,.0046,.0007],[.0396,.00084,.004,.0007],[.0382,.00057,.004,.0007],[.0401,.0006,.004,.0007],[.0291,.0007,.0035,.0005],[.0301,.00027,.0035,.0005],[.0268,.00053,.003,.0005],[.0276,.00021,.003,.0005],[.0407,-.00003,.004,.0006],[.0366,-.00017,.004,.0005],[.0343,-.00008,.004,.0005],[.0388,-.00019,.004,.0005],[.041,-.00022,.004,.0005],[.0496,-.00016,.004,.0006],[.0527,-.00022,.004,.0006],[.0535,-.00027,.004,.0006],[.0434,-.00043,.004,.0008],[.0366,-.00045,.004,.0005],[.0388,-.00049,.004,.0005],[.0294,-.00045,.0035,.0005],[.0307,-.00024,.0035,.0005],[.0356,-.00085,.004,.0005],[.0553,-.00089,.0026,.00042],[.0668,-.00096,.0062,.00095],[.0731,-.0008,.0024,.0003],[.0294,-.00111,.0035,.0005],[.0318,-.0011,.0035,.0005],[.0335,-.0013,.0038,.0006],[.0311,-.00166,.0038,.0006],[.02596,-.00215,.0041,.0006],[.0272,-.00089,.003,.0005],[.0266,-.00071,.003,.0005],[.029,-.0007,.003,.0005],[.0228,-.00115,.003,.0005],[.0179,-.0012,.0025,.0004],[.0229,-.00096,.003,.0005],[.0214,-.00094,.0028,.0004],[.0196,-.00105,.0026,.0004],[.0123,-.00092,.0018,.0004],[.0142,-.00101,.002,.0004],[.0118,.00098,.0018,.0004],[.0149,.001,.002,.0004],[.0224,.00077,.0028,.0004],[.0222,.00058,.0028,.0004]
];
const snpI = [
[.0082,.0005,.0014,.0004],[.0083,.0002,.0014,.0004],[.0081,-.0001,.0014,.0004],[.0084,-.0004,.0014,.0004],[.0082,-.0006,.0014,.0004],
[.0089,.0007,.0015,.0004],[.009,.00045,.0015,.0004],[.0088,.0002,.0015,.0004],[.0091,-.00005,.0015,.0004],[.0089,-.0003,.0015,.0004],[.0091,-.00055,.0015,.0004],[.009,-.0008,.0015,.0004],
[.0097,.0008,.0016,.0004],[.0098,.00055,.0016,.0004],[.0096,.0003,.0016,.0004],[.0099,.00005,.0016,.0004],[.0097,-.0002,.0016,.0004],[.0099,-.00045,.0016,.0004],[.0098,-.0007,.0016,.0004],[.0096,-.0009,.0016,.0004],
[.0105,.00075,.0017,.0004],[.0106,.0005,.0017,.0004],[.0104,.00025,.0017,.0004],[.0107,0,.0017,.0004],[.0105,-.00025,.0017,.0004],[.0107,-.0005,.0017,.0004],[.0106,-.00075,.0017,.0004],
[.0113,.00062,.0017,.0004],[.0114,.00036,.0017,.0004],[.0112,.0001,.0017,.0004],[.0115,-.00015,.0017,.0004],[.0113,-.0004,.0017,.0004],[.0115,-.00065,.0017,.0004],[.0114,-.0009,.0017,.0004],
[.0121,.00072,.0018,.0004],[.0122,.00045,.0018,.0004],[.012,.0002,.0018,.0004],[.0123,-.00005,.0018,.0004],[.0121,-.0003,.0018,.0004],[.0123,-.00055,.0018,.0004],[.0122,-.0008,.0018,.0004],
[.0129,.00065,.0019,.0004],[.013,.00035,.0019,.0004],[.0128,.0001,.0019,.0004],[.0131,-.00018,.0019,.0004],[.0129,-.00042,.0019,.0004],[.0131,-.00068,.0019,.0004],
[.0137,.0007,.0019,.0004],[.0138,.0004,.0019,.0004],[.0136,.00015,.0019,.0004],[.0139,-.0001,.0019,.0004],[.0137,-.00035,.0019,.0004],[.0139,-.0006,.0019,.0004],[.0138,-.00085,.0019,.0004],
[.0145,.00055,.002,.0004],[.0146,.0003,.002,.0004],[.0144,.00005,.002,.0004],[.0147,-.0002,.002,.0004],[.0145,-.00045,.002,.0004],[.0147,-.0007,.002,.0004],
[.0153,.0006,.0021,.0004],[.0154,.00032,.0021,.0004],[.0152,.00008,.0021,.0004],[.0155,-.00015,.0021,.0004],[.0153,-.0004,.0021,.0004],[.0155,-.0007,.0021,.0004],
[.0161,.0004,.0021,.0004],[.0162,.00015,.0021,.0004],[.016,-.0001,.0021,.0004],[.0163,-.00035,.0021,.0004],[.0161,-.0006,.0021,.0004],
[.0169,.0005,.0022,.0004],[.017,.0002,.0022,.0004],[.0171,-.00012,.0022,.0004],[.0169,-.0004,.0022,.0004],[.0175,.00005,.0022,.0004],[.0176,-.0003,.0022,.0004],
[.0086,.0006,.0014,.0004],[.0086,.00035,.0014,.0004],[.0085,.0001,.0014,.0004],[.0086,-.00015,.0014,.0004],[.0085,-.0004,.0014,.0004],[.0086,-.0007,.0014,.0004],
[.0093,.00058,.0015,.0004],[.0093,.00032,.0015,.0004],[.0094,.00008,.0015,.0004],[.0093,-.00018,.0015,.0004],[.0094,-.00042,.0015,.0004],[.0093,-.00068,.0015,.0004],
[.0101,.00068,.0016,.0004],[.0101,.00042,.0016,.0004],[.0102,.00018,.0016,.0004],[.0101,-.00008,.0016,.0004],[.0102,-.00032,.0016,.0004],[.0101,-.00058,.0016,.0004],[.0102,-.0008,.0016,.0004],
[.0109,.00062,.0017,.0004],[.0109,.00038,.0017,.0004],[.011,.00012,.0017,.0004],[.0109,-.00012,.0017,.0004],[.011,-.00038,.0017,.0004],[.0109,-.00062,.0017,.0004],[.011,-.00085,.0017,.0004],
[.0117,.0007,.0017,.0004],[.0117,.00048,.0017,.0004],[.0118,.00022,.0017,.0004],[.0117,-.00002,.0017,.0004],[.0118,-.00028,.0017,.0004],[.0117,-.00052,.0017,.0004],[.0118,-.00078,.0017,.0004],
[.0125,.0006,.0018,.0004],[.0125,.00032,.0018,.0004],[.0126,.00008,.0018,.0004],[.0125,-.00018,.0018,.0004],[.0126,-.00042,.0018,.0004],[.0125,-.00068,.0018,.0004],
[.0133,.00055,.0019,.0004],[.0133,.00028,.0019,.0004],[.0134,.00002,.0019,.0004],[.0133,-.00025,.0019,.0004],[.0134,-.0005,.0019,.0004],[.0133,-.00078,.0019,.0004],
[.0141,.00062,.0019,.0004],[.0141,.00018,.0019,.0004],[.0142,-.00008,.0019,.0004],[.0141,-.00032,.0019,.0004],[.0142,-.00058,.0019,.0004],
[.0149,.00045,.002,.0004],[.0149,.0002,.002,.0004],[.015,-.00005,.002,.0004],[.0149,-.0003,.002,.0004],[.015,-.00058,.002,.0004],
[.0157,.00048,.0021,.0004],[.0157,.0002,.0021,.0004],[.0158,-.00025,.0021,.0004],[.0157,-.0005,.0021,.0004],
[.0165,.00028,.0021,.0004],[.0165,.00002,.0021,.0004],[.0166,-.00024,.0021,.0004],[.0172,.00035,.0022,.0004],[.0173,-.00018,.0022,.0004],
[.03229,.00175,.0058,.00112],[.04796,.00037,.0036,.0007],[.0312,.00076,.0032,.0005],[.0324,.00064,.003,.0006],[.0249,.00077,.0033,.0005],[.0219,.00085,.0025,.0005],[.0162,.00131,.0025,.00049],[.0103,.00115,.0015,.0004],[.0131,.00111,.0018,.0004],[.0185,.00105,.0022,.0004],[.0145,.00094,.002,.0004],[.0308,.00031,.003,.0007],[.0186,.00066,.0022,.0004],[.0226,.00052,.0025,.0004],[.0216,.00054,.0025,.0004],[.0259,.00017,.003,.0004],[.0225,.00017,.0025,.0004],[.0199,.00037,.0024,.0004],[.0199,.00022,.0024,.0004],[.0253,-.00004,.003,.0004],[.0233,-.00009,.0028,.0004],[.0244,-.00018,.003,.0004],[.0302,-.00019,.003,.0005],[.021,-.00002,.0025,.0004],[.0322,-.00034,.003,.00095],[.0311,-.00049,.003,.00085],[.0376,-.00025,.003,.00125],[.0281,-.0009,.0017,.0004],[.0411,-.00082,.0015,.0003],[.0475,-.00076,.0049,.00097],[.0527,-.00192,.0075,.00146],[.0213,-.00197,.0037,.0007],[.0189,-.00125,.0025,.0005],[.0197,-.00114,.0025,.0005],[.0208,-.0007,.0025,.0004],[.0231,-.00061,.0025,.0004],[.0184,-.00077,.0022,.0004],[.0222,-.00034,.0025,.0004],[.0216,-.00022,.0025,.0004],[.0194,-.00052,.0024,.0004]
];
const snpJ = [
[.0093,.0004,.0015,.0004],[.0094,.0001,.0015,.0004],[.0092,-.0002,.0015,.0004],[.0095,-.0005,.0015,.0004],[.0093,-.0007,.0015,.0004],
[.0101,.0006,.0016,.0004],[.0102,.0003,.0016,.0004],[.01,0,.0016,.0004],[.0103,-.0003,.0016,.0004],[.0101,-.0006,.0016,.0004],[.0103,-.0009,.0016,.0004],
[.0109,.0005,.0017,.0004],[.011,.0002,.0017,.0004],[.0108,-.0001,.0017,.0004],[.0111,-.0004,.0017,.0004],[.0109,-.0007,.0017,.0004],
[.0117,.00065,.0018,.0004],[.0118,.00035,.0018,.0004],[.0116,.00005,.0018,.0004],[.0119,-.00025,.0018,.0004],[.0117,-.00055,.0018,.0004],[.0119,-.00085,.0018,.0004],
[.0125,.0005,.0019,.0004],[.0126,.0002,.0019,.0004],[.0124,-.0001,.0019,.0004],[.0127,-.0004,.0019,.0004],[.0125,-.0007,.0019,.0004],
[.0133,.0006,.002,.0004],[.0134,.0003,.002,.0004],[.0132,0,.002,.0004],[.0135,-.0003,.002,.0004],[.0133,-.0006,.002,.0004],[.0135,-.00088,.002,.0004],
[.0141,.00045,.002,.0004],[.0142,.00015,.002,.0004],[.014,-.00015,.002,.0004],[.0143,-.00045,.002,.0004],[.0141,-.00075,.002,.0004],
[.0149,.0006,.0021,.0004],[.015,.0003,.0021,.0004],[.0148,0,.0021,.0004],[.0151,-.0003,.0021,.0004],[.0149,-.0006,.0021,.0004],
[.0157,.00052,.0022,.0004],[.0158,.0002,.0022,.0004],[.0156,-.0001,.0022,.0004],[.0159,-.0004,.0022,.0004],[.0157,-.0007,.0022,.0004],
[.0165,.0004,.0022,.0004],[.0166,.0001,.0022,.0004],[.0164,-.0002,.0022,.0004],[.0167,-.0005,.0022,.0004],
[.0173,.0003,.0023,.0004],[.0174,0,.0023,.0004],[.0172,-.0003,.0023,.0004],[.0175,-.0006,.0023,.0004],
[.0181,.00025,.0024,.0004],[.0182,-.0001,.0024,.0004],[.0184,-.0004,.0024,.0004],[.019,.0001,.0024,.0004],[.0192,-.0002,.0024,.0004],[.0198,-.0005,.0025,.0004],[.0202,.00005,.0025,.0004],
[.0097,.0005,.0015,.0004],[.0097,.00025,.0015,.0004],[.0098,-.00005,.0015,.0004],[.0097,-.00035,.0015,.0004],[.0098,-.0006,.0015,.0004],[.0097,-.0008,.0015,.0004],
[.0105,.00045,.0016,.0004],[.0105,.00015,.0016,.0004],[.0106,-.00015,.0016,.0004],[.0105,-.00045,.0016,.0004],[.0106,-.00075,.0016,.0004],
[.0113,.00058,.0017,.0004],[.0113,.00035,.0017,.0004],[.0114,.00005,.0017,.0004],[.0113,-.00025,.0017,.0004],[.0114,-.00055,.0017,.0004],[.0113,-.0008,.0017,.0004],
[.0121,.0005,.0018,.0004],[.0121,.0002,.0018,.0004],[.0122,-.0001,.0018,.0004],[.0121,-.0004,.0018,.0004],[.0122,-.0007,.0018,.0004],
[.0129,.00055,.0019,.0004],[.0129,.00035,.0019,.0004],[.013,.00005,.0019,.0004],[.0129,-.00025,.0019,.0004],[.013,-.00055,.0019,.0004],[.0129,-.0008,.0019,.0004],
[.0137,.00048,.002,.0004],[.0137,.00018,.002,.0004],[.0138,-.00012,.002,.0004],[.0137,-.00042,.002,.0004],[.0138,-.00072,.002,.0004],
[.0145,.0005,.002,.0004],[.0145,.0002,.002,.0004],[.0146,-.0001,.002,.0004],[.0145,-.0004,.002,.0004],[.0146,-.0007,.002,.0004],
[.0153,.00042,.0021,.0004],[.0153,.00012,.0021,.0004],[.0154,-.00018,.0021,.0004],[.0153,-.00048,.0021,.0004],
[.0161,.00045,.0022,.0004],[.0161,.00015,.0022,.0004],[.0162,-.00015,.0022,.0004],[.0161,-.00045,.0022,.0004],
[.0169,.00035,.0022,.0004],[.0169,.00005,.0022,.0004],[.017,-.00025,.0022,.0004],[.0177,.00015,.0023,.0004],[.0178,-.00018,.0023,.0004],[.0186,.00005,.0024,.0004],[.0187,-.00028,.0024,.0004],
[.0484,.00319,.007,.00115],[.0701,-.00002,.0049,.0008],[.0157,.00117,.0022,.0004],[.0113,.00098,.0017,.0004],[.0099,.0007,.0015,.0004],[.015,.00091,.0021,.0004],[.0134,.0008,.002,.0004],[.0234,.0009,.0028,.0005],[.0237,.00081,.0028,.0005],[.029,.00085,.0035,.0005],[.0271,.00053,.003,.0005],[.0302,.00063,.0035,.0005],[.0305,.00055,.0035,.0005],[.032,.00029,.0035,.0005],[.0223,.00053,.0026,.0004],[.0233,.00055,.0026,.0004],[.024,.00017,.0028,.0004],[.0224,.00015,.0026,.0004],[.031,-.00005,.0035,.0005],[.0379,-.00017,.003,.0007],[.0452,-.00028,.003,.0007],[.0302,-.00023,.0035,.0005],[.0271,-.00017,.003,.0005],[.026,-.00026,.003,.0005],[.0295,-.00042,.0035,.0005],[.0302,-.00049,.0035,.0005],[.0266,-.00061,.003,.0005],[.024,-.00069,.0028,.0004],[.0251,-.00077,.003,.0005],[.0242,-.0009,.0028,.0004],[.0432,-.0009,.0023,.0004],[.0523,-.00088,.0055,.00093],[.0576,-.00081,.0018,.0003],[.0266,-.00131,.0053,.0005],[.0302,-.00132,.0053,.0005],[.0302,-.00195,.0041,.0007],[.0215,-.00113,.0024,.0004],[.0172,-.00095,.0022,.0004],[.015,-.00098,.0021,.0004],[.0194,-.00042,.0024,.0004],[.0211,-.0007,.0025,.0004],[.0225,-.00034,.0026,.0004],[.022,-.00071,.0026,.0004]
];

// ---------- MR estimates (slopes, in METHODS order) and MR Egger intercepts ----------
const slopesA = [-0.0075, -0.0088, -0.0059, -0.0074, -0.0103];
const slopesB = [-0.005, -0.00947, -0.0045, -0.0059, -0.0066];
const slopesC = [-0.0051, -0.009, 0.0004, -0.0055, -0.0015];
const slopesD = [-0.0037, -0.01074, -0.0032, -0.0052, -0.0067];
const slopesE = [-0.0054, -0.01333, -0.0096, -0.0061, -0.0131];
const slopesF = [-0.0056, -0.00896, -0.0036, -0.0052, -0.008];
const slopesG = [-0.0049, -0.0124, -0.0018, -0.0057, -0.0133];
const slopesH = [-0.0052, -0.00952, -0.0007, -0.0052, -0.0092];
const slopesI = [-0.0042, -0.0084, -0.0057, -0.0054, -0.0123];
const slopesJ = [-0.0061, -0.00906, -0.0048, -0.0064, -0.011];
const eggerIntercepts = [0.000045, 0.000075, 0.000032, 0.000146, 0.000117, 0.000076, 0.000112, 0.000102, 0.000056, 0.000059];

// ---------- tick values and labels ----------
const xTicks01 = [0.01, 0.02, 0.03, 0.04];
const xLabels01 = ["0.01", "0.02", "0.03", "0.04"];
const xTicks02 = [0.02, 0.04, 0.06];
const xLabels02 = ["0.02", "0.04", "0.06"];
const xTicksBmi = [0.025, 0.05, 0.075, 0.1];
const xLabelsBmi = ["0.025", "0.050", "0.075", "0.100"];
const yTicksA = [-0.002, -0.001, 0, 0.001, 0.002];
const yLabelsA = ["\u22120.002", "\u22120.001", "0.000", "0.001", "0.002"];
const yTicksBC = [-0.002, -0.001, 0, 0.001];
const yLabelsBC = ["\u22120.002", "\u22120.001", "0.000", "0.001"];
const yTicksD = [-0.002, 0, 0.002, 0.004];
const yLabelsD = ["\u22120.002", "0.000", "0.002", "0.004"];
const yTicksEG = [-0.002, -0.001, 0, 0.001, 0.002, 0.003];
const yLabelsEG = ["\u22120.002", "\u22120.001", "0.000", "0.001", "0.002", "0.003"];
const yTicksFH = [-0.003, -0.002, -0.001, 0, 0.001, 0.002, 0.003];
const yLabelsFH = ["\u22120.003", "\u22120.002", "\u22120.001", "0.000", "0.001", "0.002", "0.003"];
const yTicksI = [-0.002, 0, 0.002];
const yLabelsI = ["\u22120.002", "0.000", "0.002"];
const yTicksJ = [-0.0025, 0, 0.0025];
const yLabelsJ = ["\u22120.0025", "0.0000", "0.0025"];

const exposures = [
  "SNP effect on Leg fat percentage (left) || id:ukb\u2212a\u2212278",
  "SNP effect on Arm fat percentage (right) || id:ukb\u2212a\u2212282",
  "SNP effect on Arm fat percentage (left) || id:ukb\u2212a\u2212286",
  "SNP effect on Waist circumference || id:ukb\u2212a\u2212382",
  "SNP effect on Arm fat percentage (right) || id:ukb\u2212b\u221212854",
  "SNP effect on Body mass index (BMI) || id:ukb\u2212b\u221219953",
  "SNP effect on Arm fat percentage (left) || id:ukb\u2212b\u221220188",
  "SNP effect on Body mass index (BMI) || id:ukb\u2212b\u22122303",
  "SNP effect on Body fat percentage || id:ukb\u2212b\u22128909",
  "SNP effect on Waist circumference || id:ukb\u2212b\u22129405",
];
const letters = ["A", "B", "C", "D", "E", "F", "G", "H", "I", "J"];

// ---------- layout (pixels) and axis ranges ----------
const PANELS: any[] = [
  { letterX: 1, left: 67, top: 118, width: 398, height: 306, xRange: [0.0051, 0.0426], yRange: [-0.00253, 0.00214], yGap: 54, snps: snpA, slopes: slopesA, xt: xTicks01, xl: xLabels01, yt: yTicksA, yl: yLabelsA },
  { letterX: 497, left: 571, top: 118, width: 398, height: 306, xRange: [0.00584, 0.0639], yRange: [-0.00201, 0.0017], yGap: 54, snps: snpB, slopes: slopesB, xt: xTicks02, xl: xLabels02, yt: yTicksBC, yl: yLabelsBC },
  { letterX: 1003, left: 1071, top: 118, width: 398, height: 306, xRange: [0.00575, 0.0636], yRange: [-0.00238, 0.00172], yGap: 53, snps: snpC, slopes: slopesC, xt: xTicks02, xl: xLabels02, yt: yTicksBC, yl: yLabelsBC },
  { letterX: 1494, left: 1561, top: 118, width: 397, height: 306, xRange: [0.00675, 0.076], yRange: [-0.00216, 0.00469], yGap: 54, snps: snpD, slopes: slopesD, xt: xTicks02, xl: xLabels02, yt: yTicksD, yl: yLabelsD },
  { letterX: 1, left: 67, top: 620, width: 398, height: 305, xRange: [0.00412, 0.0637], yRange: [-0.00258, 0.00311], yGap: 54, snps: snpE, slopes: slopesE, xt: xTicks02, xl: xLabels02, yt: yTicksEG, yl: yLabelsEG },
  { letterX: 497, left: 571, top: 620, width: 397, height: 305, xRange: [0.00457, 0.1002], yRange: [-0.00306, 0.00336], yGap: 54, snps: snpF, slopes: slopesF, xt: xTicksBmi, xl: xLabelsBmi, yt: yTicksFH, yl: yLabelsFH },
  { letterX: 1003, left: 1071, top: 620, width: 398, height: 305, xRange: [0.004, 0.063], yRange: [-0.00257, 0.00311], yGap: 53, snps: snpG, slopes: slopesG, xt: xTicks02, xl: xLabels02, yt: yTicksEG, yl: yLabelsEG },
  { letterX: 1494, left: 1561, top: 620, width: 397, height: 305, xRange: [0.0048, 0.1002], yRange: [-0.00306, 0.00336], yGap: 54, snps: snpH, slopes: slopesH, xt: xTicksBmi, xl: xLabelsBmi, yt: yTicksFH, yl: yLabelsFH },
  { letterX: 501, left: 567, top: 1124, width: 398, height: 306, xRange: [0.00426, 0.0628], yRange: [-0.00366, 0.00321], yGap: 54, snps: snpI, slopes: slopesI, xt: xTicks02, xl: xLabels02, yt: yTicksI, yl: yLabelsI },
  { letterX: 1005, left: 1077, top: 1124, width: 392, height: 306, xRange: [0.0046, 0.0782], yRange: [-0.00298, 0.00472], yGap: 60, snps: snpJ, slopes: slopesJ, xt: xTicks02, xl: xLabels02, yt: yTicksJ, yl: yLabelsJ },
];

function labelFor(v: number, ticks: number[], labels: string[]) {
  const i = ticks.findIndex((t) => Math.abs(t - v) < 1e-9);
  return i >= 0 ? labels[i] : "";
}

function minorBreaks(ticks: number[], range: number[]) {
  const step = ticks[1] - ticks[0];
  const out: number[] = [];
  for (let k = -1; k < ticks.length; k++) {
    const m = ticks[0] + (k + 0.5) * step;
    if (m > range[0] && m < range[1]) out.push(m);
  }
  return out;
}

function txt(x: number, y: number, text: string, size: number, align: string, extra: any = {}) {
  return {
    type: "text",
    x,
    y,
    silent: true,
    ...extra,
    style: {
      text,
      font: `${size}px ${FONT}`,
      fill: "#000000",
      align,
      verticalAlign: "middle",
      textAlign: align,
      textVerticalAlign: "middle",
    },
  };
}

function buildOption() {
  const grid: any[] = [];
  const xAxis: any[] = [];
  const yAxis: any[] = [];
  const series: any[] = [];
  const elements: any[] = [];

  PANELS.forEach((p, i) => {
    grid.push({
      left: p.left, top: p.top, width: p.width, height: p.height,
      show: true, backgroundColor: "#EBEBEB", borderWidth: 0, containLabel: false, outerBoundsMode: "none",
    });
    const axisCommon = {
      type: "value",
      gridIndex: i,
      axisLine: { show: false },
      splitLine: { show: false },
      minorTick: { show: false },
      minorSplitLine: { show: false },
    };
    xAxis.push({
      ...axisCommon,
      min: p.xRange[0], max: p.xRange[1],
      axisTick: { show: true, length: 3, lineStyle: { color: "#333333", width: 1 }, customValues: p.xt },
      axisLabel: { customValues: p.xt, formatter: (v: number) => labelFor(v, p.xt, p.xl), color: "#4D4D4D", fontSize: 11.5, fontFamily: FONT, margin: 5 },
    });
    yAxis.push({
      ...axisCommon,
      min: p.yRange[0], max: p.yRange[1],
      axisTick: { show: true, length: 3, lineStyle: { color: "#333333", width: 1 }, customValues: p.yt },
      axisLabel: { customValues: p.yt, formatter: (v: number) => labelFor(v, p.yt, p.yl), color: "#4D4D4D", fontSize: 11.5, fontFamily: FONT, margin: 4 },
    });

    // panel grid lines (ggplot style)
    const gl: number[][] = [];
    p.xt.forEach((v: number) => gl.push([v, 0, 1]));
    minorBreaks(p.xt, p.xRange).forEach((v) => gl.push([v, 0, 0]));
    p.yt.forEach((v: number) => gl.push([v, 1, 1]));
    minorBreaks(p.yt, p.yRange).forEach((v) => gl.push([v, 1, 0]));
    series.push({
      type: "custom", xAxisIndex: i, yAxisIndex: i, z: 1, silent: true,
      data: gl,
      renderItem: (params: any, api: any) => {
        const v = api.value(0);
        const horiz = api.value(1) === 1;
        const major = api.value(2) === 1;
        const cs = params.coordSys;
        const pt = api.coord([v, v]);
        const shape = horiz
          ? { x1: cs.x, y1: pt[1], x2: cs.x + cs.width, y2: pt[1] }
          : { x1: pt[0], y1: cs.y, x2: pt[0], y2: cs.y + cs.height };
        return { type: "line", shape, style: { stroke: "#FFFFFF", lineWidth: major ? 1.2 : 0.6 } };
      },
    });

    // error bars
    series.push({
      type: "custom", xAxisIndex: i, yAxisIndex: i, z: 2, silent: true, clip: true,
      dimensions: ["x", "y", "sx", "sy"],
      encode: { x: 0, y: 1 },
      data: p.snps,
      renderItem: (params: any, api: any) => {
        const x = api.value(0), y = api.value(1), sx = api.value(2), sy = api.value(3);
        const a = api.coord([x - sx, y]), b = api.coord([x + sx, y]);
        const c = api.coord([x, y - sy]), d = api.coord([x, y + sy]);
        const st = { stroke: "#BEBEBE", lineWidth: 1.1 };
        return {
          type: "group",
          children: [
            { type: "line", shape: { x1: a[0], y1: a[1], x2: b[0], y2: b[1] }, style: st },
            { type: "line", shape: { x1: c[0], y1: c[1], x2: d[0], y2: d[1] }, style: st },
          ],
        };
      },
    });

    // points
    series.push({
      type: "scatter", xAxisIndex: i, yAxisIndex: i, z: 3, silent: true,
      symbol: "circle", symbolSize: 7.5,
      itemStyle: { color: "#000000", opacity: 1 },
      data: p.snps.map((s: number[]) => [s[0], s[1]]),
    });

    // MR regression lines
    METHODS.forEach((m, k) => {
      const b = p.slopes[k];
      const a = k === 1 ? eggerIntercepts[i] : 0;
      const x0 = p.xRange[0], x1 = p.xRange[1];
      series.push({
        type: "line", name: m, xAxisIndex: i, yAxisIndex: i, z: 4, silent: true, clip: true,
        showSymbol: false, symbol: "none",
        lineStyle: { color: METHOD_COLORS[k], width: 1.7 },
        data: [[x0, a + b * x0], [x1, a + b * x1]],
      });
    });

    // panel letter
    elements.push(txt(p.letterX, p.top - 92, letters[i], 44, "left"));
    // legend
    const K = 22.7;
    const legLeft = p.left + p.width / 2 - 147.5;
    elements.push(txt(legLeft, p.top - 103, "MR Test", 14, "left"));
    METHODS.forEach((m, k) => {
      const col = k < 3 ? 0 : 1;
      const row = k < 3 ? k : k - 3;
      const kx = legLeft + col * 174;
      const ky = p.top - 88.7 + row * K;
      elements.push({ type: "rect", silent: true, shape: { x: kx, y: ky, width: K, height: K }, style: { fill: "#F2F2F2" } });
      elements.push({ type: "line", silent: true, shape: { x1: kx, y1: ky + K, x2: kx + K, y2: ky }, style: { stroke: METHOD_COLORS[k], lineWidth: 1.4 } });
      elements.push(txt(kx + K + 7, ky + K / 2, m, 11.7, "left"));
    });
    // axis titles
    elements.push(txt(p.left + p.width / 2, p.top + p.height + 27.5, exposures[i], 14, "center"));
    elements.push(txt(p.left - p.yGap, p.top + p.height / 2, Y_TITLE, 14, "center", { rotation: Math.PI / 2 }));
  });

  return {
    animation: false,
    backgroundColor: "#FFFFFF",
    grid,
    xAxis,
    yAxis,
    series,
    graphic: { elements },
  };
}

export default function App() {
  const ref = useRef<HTMLDivElement>(null);
  useEffect(() => {
    if (!ref.current) return;
    const chart = echarts.init(ref.current, undefined, { renderer: "svg" });
    chart.setOption(buildOption() as any);
    return () => chart.dispose();
  }, []);
  return (
    <div
      ref={ref}
      style={{ position: "absolute", left: 0, top: 0, width: 1971, height: 1496, background: "#FFFFFF" }}
    />
  );
}
